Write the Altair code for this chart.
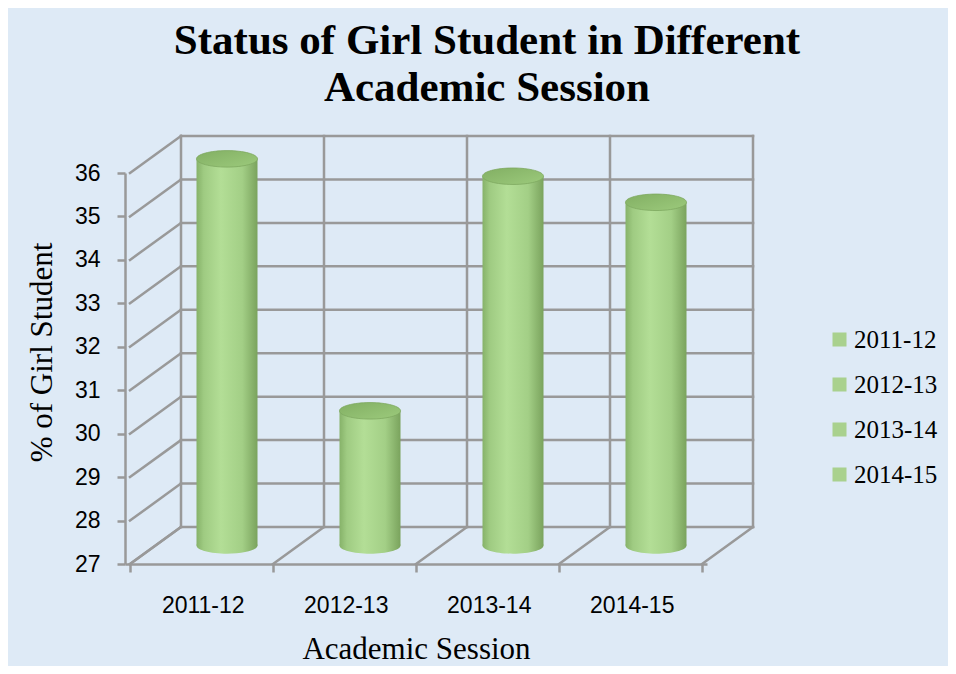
import altair as alt
import pandas as pd

# ---- data ----
sessions = ["2011-12", "2012-13", "2013-14", "2014-15"]
girl_pct = [35.9, 30.1, 35.5, 34.9]
y_ticks = [27, 28, 29, 30, 31, 32, 33, 34, 35, 36]

title_lines = ["Status of Girl Student in Different", "Academic Session"]
x_title = "Academic Session"
y_title = "% of Girl Student"

# ---- styles ----
legend_color = "#A9D18E"
grid_color = "#999999"
bg_color = "#DEEAF6"
DX, DY = 51, -37          # pseudo-3D depth offset (px)
CYL_W = 61                # cylinder width (px)
ELLIPSE = "M-1,0 A1,0.27 0 1,0 1,0 A1,0.27 0 1,0 -1,0 Z"

n = len(sessions)
y_min, y_max = y_ticks[0], y_ticks[-1]

bars = pd.DataFrame({
    "session": sessions,
    "pos": [i + 0.5 for i in range(n)],
    "value": girl_pct,
    "base": [y_min] * n,
})
hlines = pd.DataFrame({"v": y_ticks, "x0": [0] * len(y_ticks), "x1": [n] * len(y_ticks)})
vlines = pd.DataFrame({"b": list(range(n + 1)), "y0": [y_min] * (n + 1), "y1": [y_max] * (n + 1)})

xs = alt.Scale(domain=[0, n], nice=False, zero=False)
ys = alt.Scale(domain=[y_min, y_max], nice=False, zero=False)

label_expr = "[" + ",".join(f"'{s}'" for s in sessions) + ",''][datum.value]"
W, H = 582, 391

x_axis = alt.Axis(
    values=list(range(n + 1)), labelExpr=label_expr, labelOffset=W / n / 2,
    grid=False, domainColor=grid_color, domainWidth=2.5, tickColor=grid_color,
    tickWidth=2.5, tickSize=8, labelFont="Liberation Sans", labelFontSize=23,
    labelColor="#000000", labelPadding=22, labelAngle=0, labelFlush=False,
    labelOverlap=False,
    title=x_title, titleFont="Liberation Serif", titleFontSize=31,
    titleFontWeight="normal", titleColor="#000000", titleY=85,
    titleBaseline="middle",
)
y_axis = alt.Axis(
    values=y_ticks, grid=False, domainColor=grid_color, domainWidth=2.5,
    tickColor=grid_color, tickWidth=2.5, tickSize=8,
    labelFont="Liberation Sans", labelFontSize=23, labelColor="#000000",
    labelPadding=17, labelFlush=False, labelOverlap=False,
    title=y_title, titleFont="Liberation Serif",
    titleFontSize=31, titleFontWeight="normal", titleColor="#000000",
    titleX=-83, titleY=179, titleAngle=270, titleAlign="center",
    titleBaseline="middle",
)

rule_style = dict(color=grid_color, strokeWidth=2.5, strokeCap="square")


def X(field):
    return alt.X(field, scale=xs, axis=x_axis)


def Y(field):
    return alt.Y(field, scale=ys, axis=y_axis)


back_h = alt.Chart(hlines).mark_rule(xOffset=DX, x2Offset=DX, yOffset=DY, **rule_style).encode(
    x=X("x0:Q"), x2="x1:Q", y=Y("v:Q"),
)
back_v = alt.Chart(vlines).mark_rule(xOffset=DX, yOffset=DY, y2Offset=DY, **rule_style).encode(
    x=X("b:Q"), y=Y("y0:Q"), y2="y1:Q",
)
side = alt.Chart(hlines).mark_rule(x2Offset=DX, y2Offset=DY, **rule_style).encode(
    x=X("x0:Q"), x2="x0:Q", y=Y("v:Q"), y2="v:Q",
)
floor = alt.Chart(vlines).mark_rule(x2Offset=DX, y2Offset=DY, **rule_style).encode(
    x=X("b:Q"), x2="b:Q", y=Y("y0:Q"), y2="y0:Q",
)

legend_layer = alt.Chart(bars).mark_square(size=144, opacity=1, xOffset=DX / 2, yOffset=DY / 2).encode(
    x=X("pos:Q"),
    y=Y("base:Q"),
    color=alt.Color(
        "session:N",
        scale=alt.Scale(domain=sessions, range=[legend_color] * n),
        legend=alt.Legend(
            title=None, orient="none", legendX=702, legendY=154, direction="vertical",
            symbolType="square", symbolSize=196, symbolStrokeWidth=0,
            labelFont="Liberation Serif", labelFontSize=25, labelColor="#000000",
            rowPadding=19, labelOffset=2, padding=0,
        ),
    ),
)

body_grad = alt.LinearGradient(
    gradient="linear", x1=0, x2=1, y1=0, y2=0,
    stops=[
        alt.GradientStop(offset=0.0, color="#86B269"),
        alt.GradientStop(offset=0.12, color="#9FCB82"),
        alt.GradientStop(offset=0.4, color="#B3DE96"),
        alt.GradientStop(offset=0.75, color="#A3CF86"),
        alt.GradientStop(offset=1.0, color="#7AA35D"),
    ],
)
top_grad = alt.LinearGradient(
    gradient="linear", x1=0, x2=1, y1=0, y2=1,
    stops=[
        alt.GradientStop(offset=0.0, color="#82AF63"),
        alt.GradientStop(offset=1.0, color="#9CCA7C"),
    ],
)

body = alt.Chart(bars).mark_bar(
    size=CYL_W, color=body_grad, xOffset=DX / 2, yOffset=DY / 2, y2Offset=DY / 2
).encode(
    x=X("pos:Q"), y=Y("value:Q"), y2="base:Q",
)
bottom_cap = alt.Chart(bars).mark_point(
    shape=ELLIPSE, size=CYL_W ** 2, filled=True, opacity=1, color=body_grad,
    xOffset=DX / 2, yOffset=DY / 2,
).encode(
    x=X("pos:Q"), y=Y("base:Q"),
)
top_cap = alt.Chart(bars).mark_point(
    shape=ELLIPSE, size=CYL_W ** 2, filled=True, opacity=1, color=top_grad,
    stroke="#7DA85F", strokeWidth=0.8, xOffset=DX / 2, yOffset=DY / 2,
).encode(
    x=X("pos:Q"), y=Y("value:Q"),
)

chart = alt.layer(back_h, back_v, side, floor, legend_layer, body, bottom_cap, top_cap).properties(
    width=W, height=H,
    padding={"left": 117, "top": 165, "right": 241, "bottom": 102},
    autosize=alt.AutoSizeParams(type="none"),
    background=bg_color,
    title=alt.TitleParams(
        text=title_lines, font="Liberation Serif", fontSize=43, fontWeight="bold",
        color="#000000", anchor="middle", frame="group", dx=71, offset=24, lineHeight=47,
    ),
).configure_view(stroke=None)

chart.save("out.html", embed_options={"renderer": "svg", "actions": False})
